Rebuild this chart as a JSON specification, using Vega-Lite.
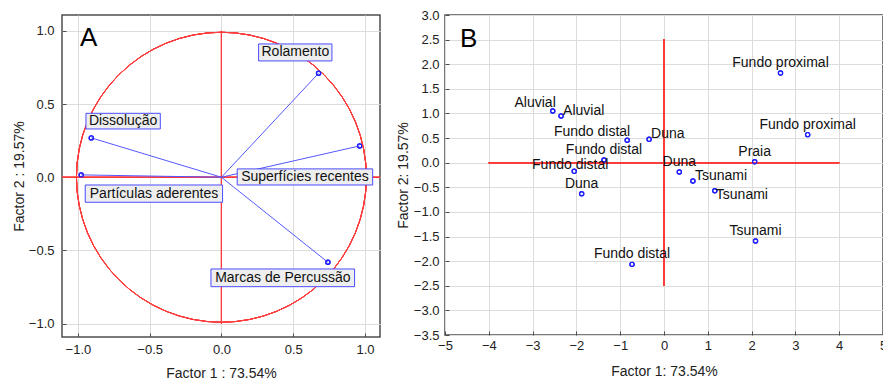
{
  "$schema": "https://vega.github.io/schema/vega-lite/v6.json",
  "background": "white",
  "padding": {"left": 11, "top": 8, "right": 0, "bottom": 0},
  "spacing": 13,
  "config": {
    "font": "Liberation Sans",
    "view": {"stroke": "#4d4d4d", "strokeWidth": 1.5},
    "axis": {
      "labelFont": "Liberation Sans", "titleFont": "Liberation Sans",
      "labelFontSize": 13, "titleFontSize": 14, "titleFontWeight": "normal",
      "labelColor": "#222", "titleColor": "#222",
      "gridColor": "#dcdcdc", "gridWidth": 1,
      "domain": false, "tickColor": "#4d4d4d", "tickSize": -4, "labelPadding": 10,
      "labelOverlap": false, "labelFlush": false
    }
  },
  "hconcat": [
    {
      "width": 318, "height": 322,
      "data": {"values": [
        {"var": "Rolamento", "x": 0.677, "y": 0.711, "tx": 0.515, "ty": 0.853, "bx1": 0.259, "bx2": 0.770, "by1": 0.795, "by2": 0.911},
        {"var": "Superfícies recentes", "x": 0.963, "y": 0.214, "tx": 0.582, "ty": 0.002, "bx1": 0.110, "bx2": 1.054, "by1": -0.053, "by2": 0.057},
        {"var": "Dissolução", "x": -0.907, "y": 0.269, "tx": -0.685, "ty": 0.384, "bx1": -0.944, "bx2": -0.426, "by1": 0.330, "by2": 0.437},
        {"var": "Partículas aderentes", "x": -0.977, "y": 0.016, "tx": -0.47, "ty": -0.112, "bx1": -0.949, "bx2": 0.008, "by1": -0.171, "by2": -0.053},
        {"var": "Marcas de Percussão", "x": 0.742, "y": -0.581, "tx": 0.428, "ty": -0.687, "bx1": -0.073, "bx2": 0.928, "by1": -0.748, "by2": -0.627}
      ]},
      "layer": [
        {"mark": {"type": "point", "filled": false, "color": "#1f1fff", "size": 18, "strokeWidth": 1.2, "opacity": 1},
         "encoding": {
           "x": {"field": "x", "type": "quantitative", "scale": {"domain": [-1.111, 1.105], "nice": false, "zero": false}, "axis": {"title": "Factor 1 : 73.54%", "values": [-1, -0.5, 0, 0.5, 1], "tickCount": 20, "format": ".1f", "titlePadding": 10, "labelOverlap": false}},
           "y": {"field": "y", "type": "quantitative", "scale": {"domain": [-1.092, 1.109], "nice": false, "zero": false}, "axis": {"title": "Factor 2 : 19.57%", "values": [-1, -0.5, 0, 0.5, 1], "tickCount": 20, "format": ".1f", "titlePadding": 2, "labelPadding": 12, "labelOverlap": false}}
         }},
        {"mark": {"type": "rule", "color": "#ff3b3b", "strokeWidth": 1},
         "encoding": {"y": {"datum": 0, "type": "quantitative"}}},
        {"mark": {"type": "rule", "color": "#ff3b3b", "strokeWidth": 1},
         "encoding": {"x": {"datum": 0, "type": "quantitative"}, "y": {"datum": -1, "type": "quantitative"}, "y2": {"datum": 1}}},
        {"mark": {"type": "point", "shape": "circle", "filled": false, "color": "#ff3b3b", "strokeWidth": 1, "size": 84100, "opacity": 1},
         "encoding": {"x": {"datum": 0, "type": "quantitative"}, "y": {"datum": 0, "type": "quantitative"}}},
        {"mark": {"type": "rule", "color": "#5656ff", "strokeWidth": 1},
         "encoding": {"x": {"field": "x", "type": "quantitative"}, "y": {"field": "y", "type": "quantitative"}, "x2": {"datum": 0}, "y2": {"datum": 0}}},
        {"mark": {"type": "point", "filled": false, "color": "#1f1fff", "size": 18, "strokeWidth": 1.2, "opacity": 1},
         "encoding": {"x": {"field": "x", "type": "quantitative"}, "y": {"field": "y", "type": "quantitative"}}},
        {"mark": {"type": "rect", "fill": "#eeeeee", "stroke": "#4b4bff", "strokeWidth": 1},
         "encoding": {"x": {"field": "bx1", "type": "quantitative"}, "x2": {"field": "bx2"}, "y": {"field": "by1", "type": "quantitative"}, "y2": {"field": "by2"}}},
        {"mark": {"type": "text", "fontSize": 14, "color": "#111", "align": "center", "baseline": "middle"},
         "encoding": {"x": {"field": "tx", "type": "quantitative"}, "y": {"field": "ty", "type": "quantitative"}, "text": {"field": "var"}}},
        {"data": {"values": [{"label": "A", "x": -0.985, "y": 0.95}]},
         "mark": {"type": "text", "fontSize": 26, "color": "#000", "align": "left", "baseline": "middle"},
         "encoding": {"x": {"field": "x", "type": "quantitative"}, "y": {"field": "y", "type": "quantitative"}, "text": {"field": "label"}}}
      ]
    },
    {
      "width": 438, "height": 320,
      "data": {"values": [
        {"id": 1, "name": "Fundo proximal", "x": 2.66, "y": 1.82},
        {"id": 2, "name": "Aluvial", "x": -2.54, "y": 1.05},
        {"id": 3, "name": "Aluvial", "x": -2.35, "y": 0.95},
        {"id": 4, "name": "Fundo distal", "x": -0.84, "y": 0.455},
        {"id": 5, "name": "Duna", "x": -0.34, "y": 0.475},
        {"id": 6, "name": "Fundo proximal", "x": 3.28, "y": 0.57},
        {"id": 7, "name": "Praia", "x": 2.07, "y": 0.02},
        {"id": 8, "name": "Fundo distal", "x": -1.37, "y": 0.055},
        {"id": 9, "name": "Fundo distal", "x": -2.05, "y": -0.175},
        {"id": 10, "name": "Duna", "x": 0.35, "y": -0.19},
        {"id": 11, "name": "Tsunami", "x": 0.66, "y": -0.37},
        {"id": 12, "name": "Tsunami", "x": 1.16, "y": -0.57},
        {"id": 13, "name": "Duna", "x": -1.88, "y": -0.63},
        {"id": 14, "name": "Tsunami", "x": 2.09, "y": -1.59},
        {"id": 15, "name": "Fundo distal", "x": -0.73, "y": -2.065}
      ]},
      "layer": [
        {"mark": {"type": "point", "filled": false, "color": "#1f1fff", "size": 18, "strokeWidth": 1.2, "opacity": 1},
         "encoding": {
           "x": {"field": "x", "type": "quantitative", "scale": {"domain": [-5, 5], "nice": false, "zero": false}, "axis": {"title": "Factor 1: 73.54%", "values": [-5, -4, -3, -2, -1, 0, 1, 2, 3, 4, 5], "tickCount": 30, "format": "d", "titlePadding": 12, "labelPadding": 8, "labelOverlap": false}},
           "y": {"field": "y", "type": "quantitative", "scale": {"domain": [-3.5, 3], "nice": false, "zero": false}, "axis": {"title": "Factor 2: 19.57%", "values": [-3.5, -3, -2.5, -2, -1.5, -1, -0.5, 0, 0.5, 1, 1.5, 2, 2.5, 3], "tickCount": 30, "format": ".1f", "titlePadding": 3, "labelPadding": 10, "labelOverlap": false}}
         }},
        {"mark": {"type": "rule", "color": "#ff3b3b", "strokeWidth": 1},
         "encoding": {"x": {"datum": -4, "type": "quantitative"}, "x2": {"datum": 4}, "y": {"datum": 0, "type": "quantitative"}}},
        {"mark": {"type": "rule", "color": "#ff3b3b", "strokeWidth": 1.2},
         "encoding": {"x": {"datum": 0, "type": "quantitative"}, "y": {"datum": -2.5, "type": "quantitative"}, "y2": {"datum": 2.5}}},
        {"mark": {"type": "point", "filled": false, "color": "#1f1fff", "size": 18, "strokeWidth": 1.2, "opacity": 1},
         "encoding": {"x": {"field": "x", "type": "quantitative"}, "y": {"field": "y", "type": "quantitative"}}},
        {"transform": [{"filter": {"field": "id", "oneOf": [1, 6, 7, 8, 10, 13, 14, 15]}}],
         "mark": {"type": "text", "fontSize": 14, "color": "#111", "align": "center", "baseline": "middle", "dy": -10},
         "encoding": {"x": {"field": "x", "type": "quantitative"}, "y": {"field": "y", "type": "quantitative"}, "text": {"field": "name"}}},
        {"transform": [{"filter": {"field": "id", "oneOf": [2, 4]}}],
         "mark": {"type": "text", "fontSize": 14, "color": "#111", "align": "right", "baseline": "middle", "dx": 3, "dy": -8},
         "encoding": {"x": {"field": "x", "type": "quantitative"}, "y": {"field": "y", "type": "quantitative"}, "text": {"field": "name"}}},
        {"transform": [{"filter": {"field": "id", "oneOf": [3, 5, 11]}}],
         "mark": {"type": "text", "fontSize": 14, "color": "#111", "align": "left", "baseline": "middle", "dx": 2, "dy": -5},
         "encoding": {"x": {"field": "x", "type": "quantitative"}, "y": {"field": "y", "type": "quantitative"}, "text": {"field": "name"}}},
        {"transform": [{"filter": {"field": "id", "oneOf": [12]}}],
         "mark": {"type": "text", "fontSize": 14, "color": "#111", "align": "left", "baseline": "middle", "dx": 1, "dy": 4},
         "encoding": {"x": {"field": "x", "type": "quantitative"}, "y": {"field": "y", "type": "quantitative"}, "text": {"field": "name"}}},
        {"transform": [{"filter": {"field": "id", "oneOf": [9]}}],
         "mark": {"type": "text", "fontSize": 14, "color": "#111", "align": "center", "baseline": "middle", "dx": -4, "dy": -6},
         "encoding": {"x": {"field": "x", "type": "quantitative"}, "y": {"field": "y", "type": "quantitative"}, "text": {"field": "name"}}},
        {"data": {"values": [{"label": "B", "x": -4.66, "y": 2.52}]},
         "mark": {"type": "text", "fontSize": 26, "color": "#000", "align": "left", "baseline": "middle"},
         "encoding": {"x": {"field": "x", "type": "quantitative"}, "y": {"field": "y", "type": "quantitative"}, "text": {"field": "label"}}}
      ]
    }
  ]
}
